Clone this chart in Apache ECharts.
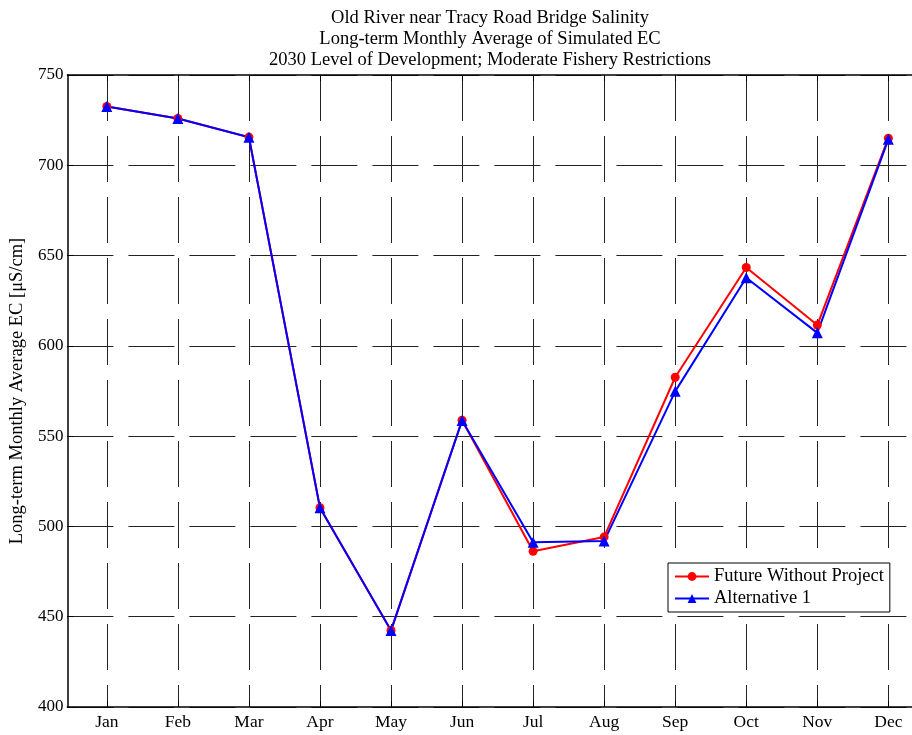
<!DOCTYPE html>
<html>
<head>
<meta charset="utf-8">
<script src="https://cdn.jsdelivr.net/npm/echarts@6/dist/echarts.min.js"></script>
<style>html,body{margin:0;padding:0;background:#fff;}#c{width:912px;height:735px;}</style>
</head>
<body>
<div id="c"></div>
<script>
var months = ['Jan','Feb','Mar','Apr','May','Jun','Jul','Aug','Sep','Oct','Nov','Dec'];
var futureWithoutProject = [732.6, 725.9, 715.6, 510.4, 442.4, 558.8, 486.2, 494.2, 582.6, 643.4, 611.5, 715.0];
var alternative1 = [732.6, 725.9, 715.5, 510.3, 442.3, 558.6, 491.2, 491.9, 574.8, 637.7, 607.2, 714.4];
var yTicks = [400, 450, 500, 550, 600, 650, 700, 750];
var titleLines = ['Old River near Tracy Road Bridge Salinity','Long-term Monthly Average of Simulated EC','2030 Level of Development; Moderate Fishery Restrictions'];
var seriesNames = ['Future Without Project','Alternative 1'];
var yName = 'Long-term Monthly Average EC [\u03bcS/cm]';

var font = 'Liberation Serif';
var monthPos = months.map(function(m, i){ return i + 1; });
function pairs(vals){ return vals.map(function(v, i){ return [i + 1, v]; }); }

var xMin = 0.445, xMax = 12.333;
var chart = echarts.init(document.getElementById('c'), null, {renderer:'canvas'});
chart.setOption({
  backgroundColor: '#fff',
  animation: false,
  title: {
    text: titleLines.join('\n'),
    left: 485, top: 3, textAlign: 'center',
    textStyle: {fontFamily: font, fontSize: 18.5, fontWeight: 'normal', color: '#000', lineHeight: 21}
  },
  grid: {left: 65, top: 75, right: 0, bottom: 28, show: false},
  legend: {
    orient: 'vertical', left: 668, top: 563,
    data: seriesNames,
    itemWidth: 34, itemHeight: 11, itemGap: 3,
    padding: [4, 6, 4, 6],
    borderColor: '#000', borderWidth: 1, backgroundColor: '#fff',
    textStyle: {fontFamily: font, fontSize: 18.5, color: '#000'}
  },
  xAxis: [{
    type: 'value', min: xMin, max: xMax, position: 'bottom',
    axisLine: {show: true, onZero: false, lineStyle: {color: '#000', width: 1.5}},
    axisTick: {show: true, inside: true, length: 6, customValues: monthPos, lineStyle: {color: '#000'}},
    axisLabel: {customValues: monthPos, color: '#000', fontFamily: font, fontSize: 17.5, margin: 6,
      formatter: function(v){ return months[Math.round(v) - 1] || ''; }},
    splitLine: {show: true, lineStyle: {color: '#222', width: 1, type: [46, 15]}}
  }, {
    type: 'value', min: xMin, max: xMax, position: 'top',
    axisLine: {show: true, onZero: false, lineStyle: {color: '#000', width: 1.5}},
    axisTick: {show: true, inside: true, length: 6, customValues: monthPos, lineStyle: {color: '#000'}},
    axisLabel: {show: false},
    splitLine: {show: false}
  }],
  yAxis: {
    type: 'value', min: yTicks[0], max: yTicks[yTicks.length - 1], interval: 50,
    name: yName, nameLocation: 'middle', nameGap: 39, nameRotate: 90,
    nameTextStyle: {fontFamily: font, fontSize: 18.5, color: '#000'},
    axisLine: {show: true, lineStyle: {color: '#000', width: 1.5}},
    axisTick: {show: true, inside: true, length: 6, lineStyle: {color: '#000'}},
    axisLabel: {color: '#000', fontFamily: font, fontSize: 17, margin: 4},
    splitLine: {show: true, lineStyle: {color: '#222', width: 1, type: [46, 15]}}
  },
  series: [
    {name: seriesNames[0], type: 'line', data: pairs(futureWithoutProject), xAxisIndex: 0,
     symbol: 'circle', symbolSize: 9, showAllSymbol: true,
     lineStyle: {color: '#ff0000', width: 2}, itemStyle: {color: '#ff0000'}},
    {name: seriesNames[1], type: 'line', data: pairs(alternative1), xAxisIndex: 0,
     symbol: 'triangle', symbolSize: 11, showAllSymbol: true,
     lineStyle: {color: '#0000ff', width: 2}, itemStyle: {color: '#0000ff'}}
  ]
});
</script>
</body>
</html>
